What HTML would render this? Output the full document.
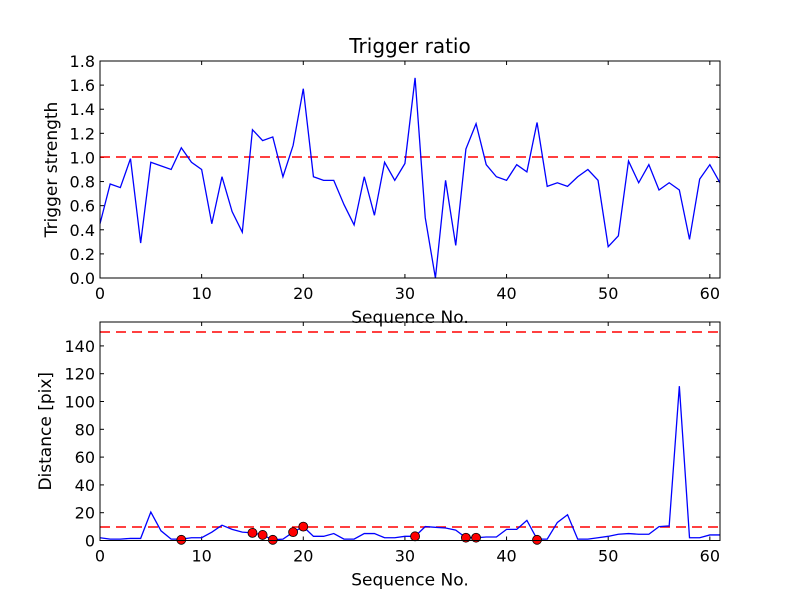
<!DOCTYPE html>
<html><head><meta charset="utf-8"><style>
body{margin:0;background:#fff}
svg text{font-family:"DejaVu Sans","Liberation Sans",sans-serif;fill:#000}
</style></head><body>
<svg id="c" width="800" height="600" xmlns="http://www.w3.org/2000/svg"></svg>
<script>
const seq = Array.from({length:62},(_,i)=>i);
const ratio = [0.45,0.78,0.75,0.99,0.29,0.96,0.93,0.90,1.08,0.96,0.90,0.45,0.84,0.55,0.38,1.23,1.14,1.17,0.84,1.10,1.57,0.84,0.81,0.81,0.61,0.44,0.84,0.52,0.96,0.81,0.95,1.66,0.50,0.0,0.81,0.27,1.07,1.28,0.94,0.84,0.81,0.94,0.88,1.29,0.76,0.79,0.76,0.84,0.90,0.81,0.26,0.35,0.97,0.79,0.94,0.73,0.79,0.73,0.32,0.82,0.94,0.79];
const dist = [2,1,1,1.5,1.5,20.5,7,1,1,2,2,6,11,8,6,5.5,4,0.5,1,6,10,3,3,5,1,1,5,5,2,2,3,3,10,9.5,9,7.5,2,2,2.5,2.5,8,8,14.5,1,1,13,18.5,1,1,2,3,4.5,5,4.5,4.5,10,10.5,111,2,2,4,4];
const markIdx = [8,15,16,17,19,20,31,36,37,43];
const markVal = [0.5,5.5,4,0.5,6,10,3,2,2,0.5];
const topTicks = [0,0.2,0.4,0.6,0.8,1.0,1.2,1.4,1.6,1.8];
const botTicks = [0,20,40,60,80,100,120,140];
const xTicks = [0,10,20,30,40,50,60];

const svg=document.getElementById('c');
const NS='http://www.w3.org/2000/svg';
function el(t,a,p){const e=document.createElementNS(NS,t);for(const k in a)e.setAttribute(k,a[k]);(p||svg).appendChild(e);return e;}
const X0=100,X1=720;
const sx=v=>X0+(v/61)*(X1-X0);
function panel(y0,y1,ymax,ticks,fmt,ylabel,name){
  const sy=v=>y1-(v/ymax)*(y1-y0);
  const g=el('g',{});
  
  
  xTicks.forEach(t=>{
    el('line',{x1:sx(t),x2:sx(t),y1:y1,y2:y1-4,stroke:'#000'},g);
    el('line',{x1:sx(t),x2:sx(t),y1:y0,y2:y0+4,stroke:'#000'},g);
    const tx=el('text',{x:sx(t),y:y1+21,'font-size':16,'text-anchor':'middle'},g);tx.textContent=t;
    
    
  });
  ticks.forEach(t=>{
    el('line',{x1:X0,x2:X0+4,y1:sy(t),y2:sy(t),stroke:'#000'},g);
    el('line',{x1:X1,x2:X1-4,y1:sy(t),y2:sy(t),stroke:'#000'},g);
    const tx=el('text',{x:X0-5,y:sy(t)+6,'font-size':16,'text-anchor':'end'},g);tx.textContent=fmt(t);
    
    
  });
  const xl=el('text',{x:410,y:y1+45,'font-size':17,'text-anchor':'middle'},g);xl.textContent='Sequence No.';
  
  
  const yc=(y0+y1)/2;
  const yl=el('text',{x:0,y:0,'font-size':17,'text-anchor':'middle',transform:`translate(${ylabel[1]},${yc}) rotate(-90)`},g);yl.textContent=ylabel[0];
  
  
  return {g,sy};
}
// top
const T=panel(61,278,1.8,topTicks,v=>v.toFixed(1),['Trigger strength',57],'top-panel');
const th=el('line',{x1:X0,x2:X1,y1:Math.round(T.sy(1)),y2:Math.round(T.sy(1)),stroke:'#f00','stroke-dasharray':'10,6','stroke-width':1.5});


const l1=el('polyline',{points:seq.map(i=>sx(i)+','+T.sy(ratio[i])).join(' '),fill:'none',stroke:'#00f','stroke-width':1.3});


el('rect',{x:X0,y:61,width:X1-X0,height:217,fill:'none',stroke:'#000'});
const tt=el('text',{x:410,y:53,'font-size':20,'text-anchor':'middle'});tt.textContent='Trigger ratio';


// bottom
const B=panel(322,540.5,157.2,botTicks,v=>v,['Distance [pix]',51],'bottom-panel');
[10,150].forEach(v=>{const l=el('line',{x1:X0,x2:X1,y1:Math.round(B.sy(v)),y2:Math.round(B.sy(v)),stroke:'#f00','stroke-dasharray':'10,6','stroke-width':1.5});

});
const l2=el('polyline',{points:seq.map(i=>sx(i)+','+B.sy(dist[i])).join(' '),fill:'none',stroke:'#00f','stroke-width':1.3});


markIdx.forEach((i,k)=>{const c=el('circle',{cx:sx(i),cy:B.sy(markVal[k]),r:4.5,fill:'#f00',stroke:'#000','stroke-width':0.8});

});
el('rect',{x:X0,y:322,width:X1-X0,height:218.5,fill:'none',stroke:'#000'});
</script>
</body></html>
